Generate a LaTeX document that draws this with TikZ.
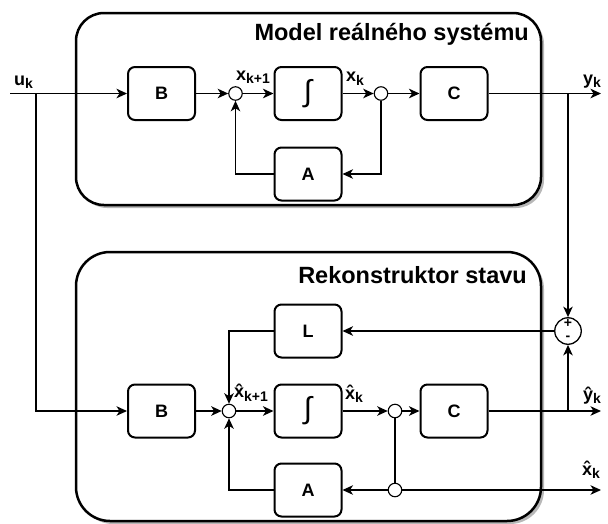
\documentclass[tikz,border=0pt]{standalone}
\usepackage{fontspec}
\setmainfont{Liberation Sans}
\usetikzlibrary{arrows.meta}

% signal name with a lowered subscript
\newcommand{\sig}[2]{{\fontsize{18}{18}\selectfont\bfseries #1\raisebox{-3.5pt}{\fontsize{14}{14}\selectfont\bfseries #2}}}

\tikzset{
  block/.style={draw, line width=2pt, rounded corners=7pt, fill=white,
    minimum width=67pt, minimum height=53pt,
    font=\fontsize{18}{18}\selectfont\bfseries},
  intblock/.style={block, font=\fontsize{30}{30}\selectfont},
  junc/.style={circle, draw, line width=1.1pt, fill=white,
    minimum size=13.5pt, inner sep=0pt},
  errsum/.style={circle, draw, line width=1.3pt, fill=white,
    minimum size=26.5pt, inner sep=0pt},
  frame/.style={draw, line width=2.5pt, fill=white},
  frameshadow/.style={fill=black!28, draw=none},
  title/.style={anchor=base east, inner sep=0pt,
    font=\fontsize{23.5}{23.5}\selectfont\bfseries},
  siglabel/.style={anchor=base west, inner sep=0pt},
  pm/.style={inner sep=0pt, font=\fontsize{14}{14}\selectfont\bfseries},
  wire/.style={line width=1.9pt, ->},
  thinwire/.style={line width=1.2pt, ->},
  plainwire/.style={line width=1.2pt},
}

\begin{document}
\begin{tikzpicture}[x=1pt, y=-1pt,
  >={Stealth[length=10.5pt, width=9.5pt, inset=3pt]}]
\useasboundingbox (0,0) rectangle (608,523);

% --- the two enclosing frames with their soft shadows
\fill[frameshadow, rounded corners=28pt] (79,16) rectangle (544,208);
\draw[frame, rounded corners=28pt] (76,13) rectangle (541,205);
\fill[frameshadow, rounded corners=34pt] (79,255) rectangle (544,524);
\draw[frame, rounded corners=34pt] (76,252) rectangle (541,521);

\node[title] (t1) at (529,40) {Model reálného systému};
\node[title] (t2) at (527,283) {Rekonstruktor stavu};

% --- real system
\node[block] (B1) at (161.5,93.5) {B};
\node[junc]  (s1) at (235.5,93.5) {};
\node[intblock] (I1) at (308,93.5) {∫};
\node[junc]  (p1) at (381,93.5) {};
\node[block] (C1) at (454,93.5) {C};
\node[block] (A1) at (308,174) {A};

% --- state reconstructor
\node[block] (L2) at (308,331) {L};
\node[block] (B2) at (161.5,411) {B};
\node[junc]  (s2) at (229,411) {};
\node[intblock] (I2) at (308,411) {∫};
\node[junc]  (p2) at (395,411) {};
\node[block] (C2) at (454,411) {C};
\node[block] (A2) at (308,490) {A};
\node[junc]  (p3) at (395,490) {};
\node[errsum] (e) at (568,331) {};
\node[pm] (plus) at (568,323.5) {+};
\node[pm] (minus) at (568,338.5) {-};

% --- free ends and branch points
\coordinate (uin) at (10,93.5);
\coordinate (ubr) at (36,93.5);
\coordinate (yout) at (601,93.5);
\coordinate (ybr) at (568,93.5);
\coordinate (yhout) at (601,411);
\coordinate (yhbr) at (568,411);
\coordinate (xout) at (601,490);

% --- connections of the real system
\draw[wire] (uin) -- (B1);
\draw[thinwire] (ubr) |- (B2);
\draw[wire] (B1) -- (s1);
\draw[wire] (s1) -- (I1);
\draw[wire] (I1) -- (p1);
\draw[wire] (p1) -- (C1);
\draw[wire] (C1) -- (yout);
\draw[thinwire] (p1) |- (A1);
\draw[thinwire] (A1) -| (s1);
\draw[thinwire] (ybr) -- (e);

% --- connections of the reconstructor
\draw[wire] (e) -- (L2);
\draw[thinwire] (L2) -| (s2);
\draw[wire] (B2) -- (s2);
\draw[wire] (s2) -- (I2);
\draw[thinwire] (I2) -- (p2);
\draw[wire] (p2) -- (C2);
\draw[thinwire] (C2) -- (yhout);
\draw[thinwire] (yhbr) -- (e);
\draw[plainwire] (p2) -- (p3);
\draw[thinwire] (p3) -- (A2);
\draw[thinwire] (p3) -- (xout);
\draw[thinwire] (A2) -| (s2);

% --- signal names
\node[siglabel] (lu)  at (14,85)   {\sig{u}{k}};
\node[siglabel] (lx1) at (236,80)  {\sig{x}{k+1}};
\node[siglabel] (lx)  at (346,81.5) {\sig{x}{k}};
\node[siglabel] (ly)  at (583,84)  {\sig{y}{k}};
\node[siglabel] (lxh1) at (234,397.5) {\sig{\^x}{k+1}};
\node[siglabel] (lxh) at (345,399) {\sig{\^x}{k}};
\node[siglabel] (lyh) at (583,400) {\sig{\^y}{k}};
\node[siglabel] (lxo) at (582,475) {\sig{\^x}{k}};
\end{tikzpicture}
\end{document}
